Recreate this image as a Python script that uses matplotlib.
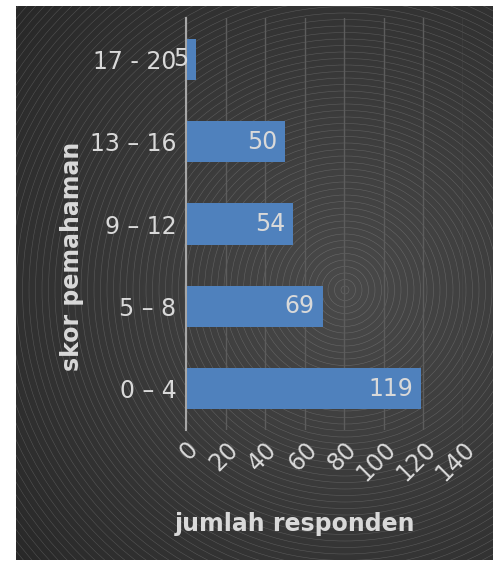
import matplotlib.pyplot as plt
from matplotlib.patches import Circle, Rectangle
import numpy as np

categories = ["0 – 4", "5 – 8", "9 – 12", "13 – 16", "17 - 20"]
values = [119, 69, 54, 50, 5]
xticks = [0, 20, 40, 60, 80, 100, 120, 140]

W, H = 496, 572
fig = plt.figure(figsize=(W / 100, H / 100), dpi=100)
fig.patch.set_facecolor("white")

# dark panel with radial gradient and concentric rings
bg = fig.add_axes([0, 0, 1, 1], zorder=0)
bg.set_xlim(0, W)
bg.set_ylim(H, 0)
bg.axis("off")
px0, py0, px1, py1 = 16, 6, 493, 560
cx, cy = 345, 290
yy, xx = np.mgrid[py0:py1, px0:px1]
r = np.hypot(xx - cx, yy - cy)
shade = 0.29 - 0.13 * np.clip(r / 420, 0, 1)
img = np.dstack([shade, shade, shade])
bg.imshow(img, extent=(px0, px1, py1, py0), interpolation="bilinear")
clip = Rectangle((px0, py0), px1 - px0, py1 - py0, transform=bg.transData)
for rad in np.arange(4, 520, 6.5):
    c = Circle((cx, cy), rad, fill=False, edgecolor="white", lw=0.4, alpha=0.18)
    bg.add_patch(c)
    c.set_clip_path(clip)

ax = fig.add_axes([186 / W, 1 - 430 / H, (463 - 186) / W, (430 - 18) / H], zorder=1)
ax.patch.set_alpha(0)
ypos = np.arange(len(categories))
bars = ax.barh(ypos, values, height=0.5, color="#4f81bd", zorder=3)
ax.set_xlim(0, 140)
ax.set_ylim(-0.5, len(categories) - 0.5)
ax.set_xticks(xticks)
ax.set_xticklabels([str(t) for t in xticks], rotation=45, ha="right", va="top",
                   rotation_mode="anchor")
ax.set_yticks(ypos)
ax.set_yticklabels(categories)
ax.tick_params(axis="both", length=0, colors="#d9d9d9", labelsize=17)
ax.tick_params(axis="y", pad=7)
ax.tick_params(axis="x", pad=5)
ax.grid(axis="x", color="#5c5c5c", lw=1, zorder=1)
for s in ["top", "right", "bottom"]:
    ax.spines[s].set_visible(False)
ax.spines["left"].set_color("#a6a6a6")
ax.spines["left"].set_linewidth(1.5)
ax.spines["left"].set_zorder(4)

for rect, v in zip(bars, values):
    ax.text(rect.get_width() - 4, rect.get_y() + rect.get_height() / 2, str(v),
            ha="right", va="center", color="#d9d9d9", fontsize=17, zorder=5)

fig.text(295 / W, 1 - 524 / H, "jumlah responden", ha="center", va="center",
         color="#d9d9d9", fontsize=17, fontweight="bold")
fig.text(72 / W, 1 - 256 / H, "skor pemahaman", ha="center", va="center",
         rotation=90, color="#d9d9d9", fontsize=17, fontweight="bold")

fig.savefig("out.png", dpi=100)
